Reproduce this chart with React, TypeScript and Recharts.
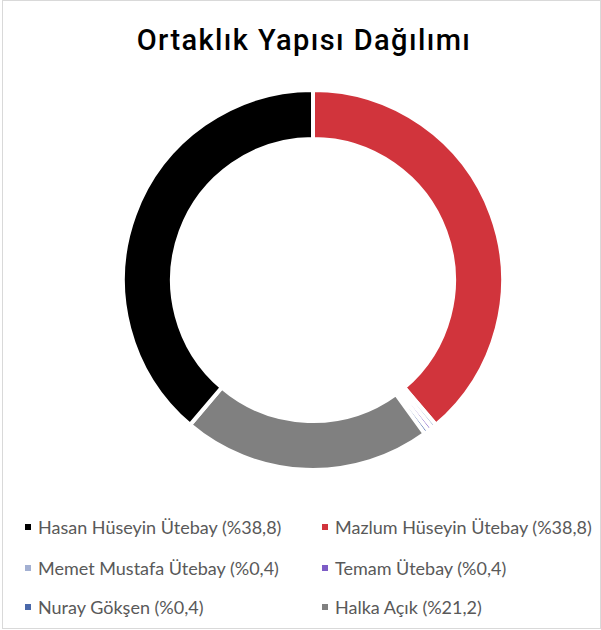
import React from "react";
import { PieChart, Pie, Cell } from "recharts";

const TITLE = "Ortaklık Yapısı Dağılımı";
const names = [
  "Hasan Hüseyin Ütebay",
  "Mazlum Hüseyin Ütebay",
  "Memet Mustafa Ütebay",
  "Temam Ütebay",
  "Nuray Gökşen",
  "Halka Açık",
];
const labels = ["%38,8", "%38,8", "%0,4", "%0,4", "%0,4", "%21,2"];
const values = [38.8, 38.8, 0.4, 0.4, 0.4, 21.2];
const colors = ["#000000", "#D1343C", "#A3B0D2", "#7D5CC6", "#4A68AA", "#808080"];
// drawing order clockwise from 12 o'clock
const pieOrder = [1, 2, 3, 4, 5, 0];

const pieData = pieOrder.map((i) => ({ name: names[i], value: values[i], color: colors[i] }));

export default function App() {
  return (
    <div style={{ position: "relative", width: 601, height: 630, background: "#fff", fontFamily: "Lato, sans-serif" }}>
      <style>{`body{margin:0;background:#fff}`}</style>
      <div
        style={{
          position: "absolute",
          left: 2,
          top: 0,
          width: 597,
          height: 627,
          border: "1px solid #d9d9d9",
          boxSizing: "content-box",
        }}
      />
      <div
        style={{
          position: "absolute",
          left: 0,
          width: 608,
          top: 22,
          textAlign: "center",
          fontFamily: "Roboto, 'Liberation Sans', sans-serif",
          fontSize: 29,
          fontWeight: 500,
          letterSpacing: 1.4,
          lineHeight: "36px",
          color: "#000",
        }}
      >
        {TITLE}
      </div>
      <div style={{ position: "absolute", left: 0, top: 0 }}>
        <PieChart width={601} height={500} margin={{ top: 0, right: 0, bottom: 0, left: 0 }}>
          <Pie
            data={pieData}
            dataKey="value"
            nameKey="name"
            cx={313}
            cy={280}
            innerRadius={141}
            outerRadius={190}
            startAngle={90}
            endAngle={-270}
            stroke="#ffffff"
            strokeWidth={4}
            isAnimationActive={false}
          >
            {pieData.map((d, i) => (
              <Cell key={i} fill={d.color} />
            ))}
          </Pie>
        </PieChart>
      </div>
      {names.map((n, i) => {
        const col = i % 2;
        const row = Math.floor(i / 2);
        const x = col === 0 ? 25 : 322;
        const y = [527, 568, 607][row];
        return (
          <div
            key={n}
            style={{
              position: "absolute",
              left: x,
              top: y - 12,
              height: 24,
              display: "flex",
              alignItems: "center",
              whiteSpace: "nowrap",
              color: "#595959",
              fontSize: 18,
            }}
          >
            <span style={{ display: "inline-block", width: 6, height: 6, background: colors[i], marginRight: 7 }} />
            <span>{`${n} (${labels[i]})`}</span>
          </div>
        );
      })}
    </div>
  );
}
